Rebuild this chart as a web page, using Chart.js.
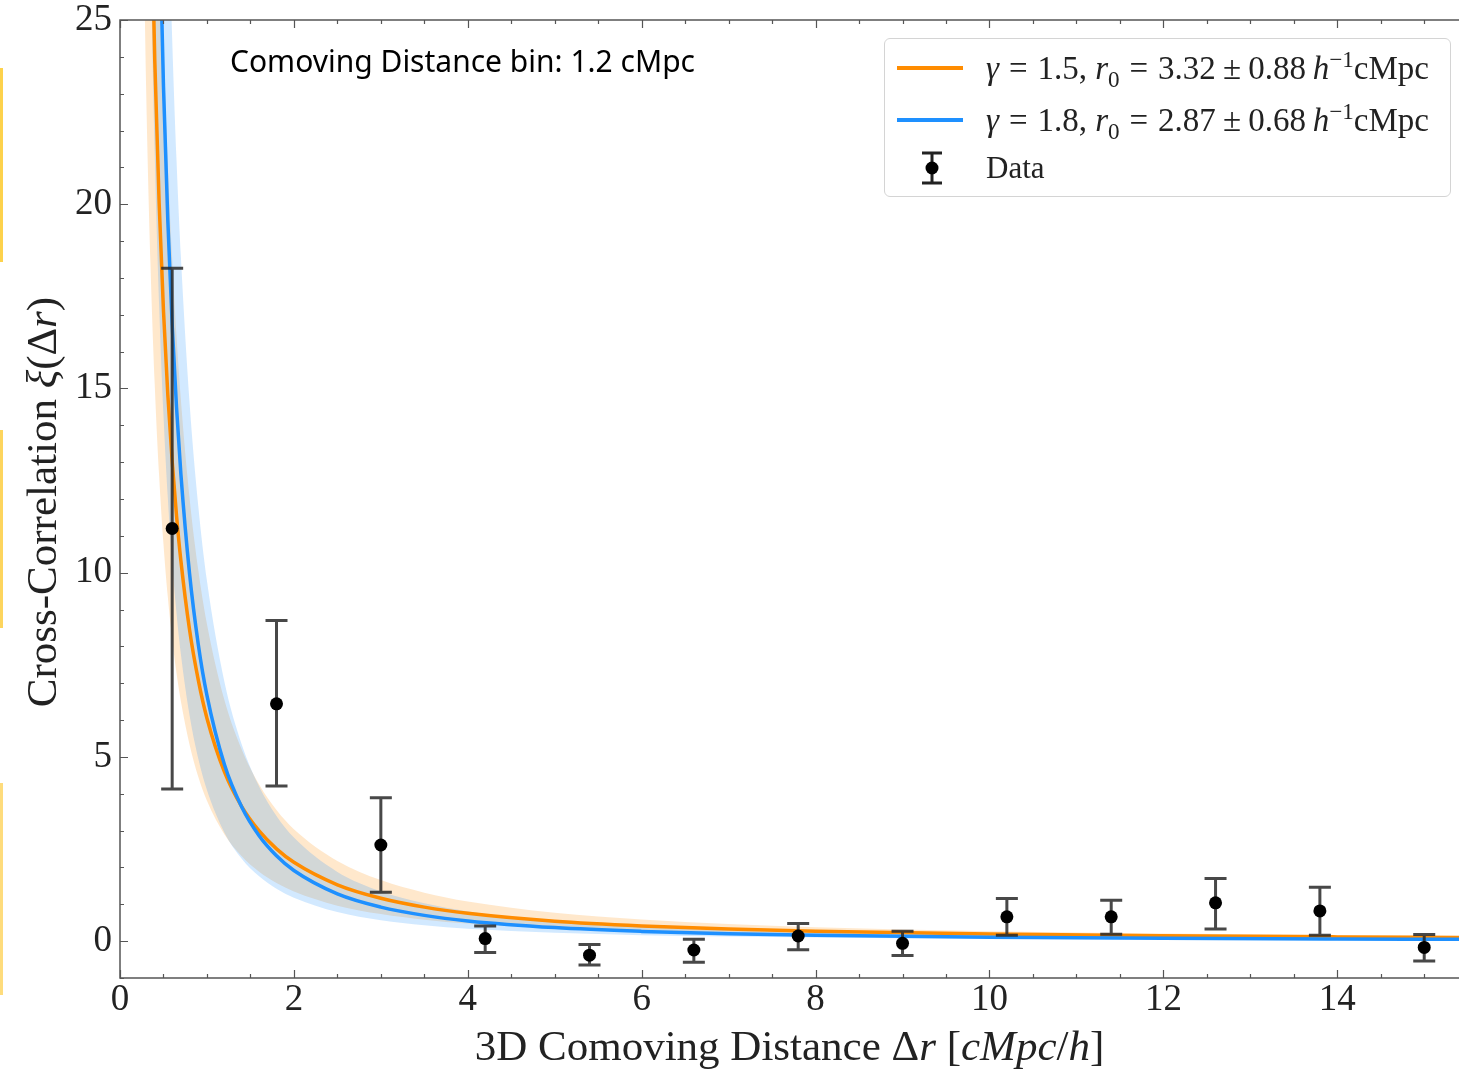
<!DOCTYPE html>
<html>
<head>
<meta charset="utf-8">
<title>Cross-correlation vs 3D comoving distance</title>
<script src="https://cdn.jsdelivr.net/npm/chart.js@4.4.1/dist/chart.umd.min.js"></script>
<style>
    html, body { margin: 0; padding: 0; background: #fff; overflow: hidden; }
    #wrap { position: relative; width: 1459px; height: 1070px; }
    #chart { position: absolute; left: 0; top: 0; }
    .mark { position: absolute; left: 0; width: 3px; }
    .serif { font-family: "Liberation Serif", "DejaVu Serif", serif; color: #222; }
    #note { position: absolute; left: 230px; top: 40px; font-family: "Noto Sans", sans-serif; font-size: 30px; color: #000; white-space: nowrap; }
    #xtitle { position: absolute; left: 120px; width: 1339px; top: 1021px; text-align: center; font-size: 43px; white-space: nowrap; }
    #ytitle { position: absolute; left: -258px; top: 480px; width: 600px; height: 44px; line-height: 44px; text-align: center; font-size: 43px; white-space: nowrap; transform: rotate(-90deg); }
    #legend { position: absolute; left: 884px; top: 38px; width: 567px; height: 159px; box-sizing: border-box; border: 1.5px solid #d4d4d4; border-radius: 6px; background: rgba(255,255,255,0.9); }
    .row { position: absolute; left: 0; width: 100%; height: 40px; }
    .sw { position: absolute; left: 12px; top: 18px; width: 66px; height: 4px; }
    .lt { position: absolute; left: 101px; top: 0; line-height: 40px; font-size: 33px; white-space: nowrap; }
    .lt sub, .lt sup { font-size: 70%; line-height: 0; }
    .rel { margin: 0 0.3em; }
    .pm { margin: 0 0.22em; }
</style>
</head>
<body>
<div id="wrap">
    <canvas id="chart" width="1459" height="1070"></canvas>

    <div class="mark" style="top:68px;height:194px;background:#fdd24c;"></div>
    <div class="mark" style="top:430px;height:198px;background:#fdd55e;"></div>
    <div class="mark" style="top:783px;height:212px;background:#fedc7c;"></div>

    <div id="note">Comoving Distance bin: 1.2 cMpc</div>

    <div id="xtitle" class="serif">3D Comoving Distance &Delta;<i>r</i> [<i>cMpc</i>/<i>h</i>]</div>
    <div id="ytitle" class="serif">Cross-Correlation <i>&xi;</i>(&Delta;<i>r</i>)</div>

    <div id="legend" class="serif">
        <div class="row" style="top:9px;">
            <div class="sw" style="background:#ff8c00;"></div>
            <div class="lt"><i>&gamma;</i><span class="rel">=</span>1.5, <i>r</i><sub>0</sub><span class="rel">=</span>3.32<span class="pm">&plusmn;</span>0.88&thinsp;<i>h</i><sup>&minus;1</sup>cMpc</div>
        </div>
        <div class="row" style="top:61px;">
            <div class="sw" style="background:#1e90ff;"></div>
            <div class="lt"><i>&gamma;</i><span class="rel">=</span>1.8, <i>r</i><sub>0</sub><span class="rel">=</span>2.87<span class="pm">&plusmn;</span>0.68&thinsp;<i>h</i><sup>&minus;1</sup>cMpc</div>
        </div>
        <div class="row" style="top:109px;">
            <svg style="position:absolute;left:30px;top:0;" width="34" height="40">
                <path d="M17 5 V35 M7 5 H27 M7 35 H27" stroke="#222" stroke-width="3" fill="none"/>
                <circle cx="17" cy="20" r="6.5" fill="#000"/>
            </svg>
            <div class="lt" style="font-size:31px;">Data</div>
        </div>
    </div>
</div>

<script>
// measured points (x = bin centre, y = xi) and their error bar ends
const dataX = [0.6, 1.8, 3.0, 4.2, 5.4, 6.6, 7.8, 9.0, 10.2, 11.4, 12.6, 13.8, 15.0];
const dataY = [11.2, 6.44, 2.61, 0.07, -0.38, -0.24, 0.14, -0.06, 0.66, 0.66, 1.04, 0.82, -0.17];
const errLow = [4.13, 4.21, 1.33, -0.31, -0.65, -0.57, -0.23, -0.39, 0.16, 0.19, 0.33, 0.16, -0.54];
const errHigh = [18.26, 8.70, 3.89, 0.41, -0.09, 0.05, 0.48, 0.27, 1.16, 1.11, 1.70, 1.46, 0.18];

// fit curves and their bands
const curveX = [0.25, 0.3, 0.35, 0.4, 0.45, 0.5, 0.55, 0.6, 0.65, 0.7, 0.8, 0.9, 1.0, 1.2, 1.4, 1.6, 1.8, 2.0, 2.5, 3.0, 3.5, 4.0, 5.0, 6.0, 7.0, 8.0, 10, 12, 14, 15.4];
const orangeFit = [48.4, 36.8, 29.2, 23.9, 20.04, 17.11, 14.83, 13.02, 11.55, 10.33, 8.45, 7.09, 6.05, 4.60, 3.65, 2.99, 2.505, 2.139, 1.530, 1.164, 0.924, 0.756, 0.541, 0.412, 0.327, 0.267, 0.191, 0.146, 0.116, 0.100];
const orangeLo = [30.5, 23.2, 18.41, 15.07, 12.63, 10.78, 9.34, 8.20, 7.27, 6.51, 5.33, 4.46, 3.81, 2.90, 2.301, 1.883, 1.578, 1.348, 0.964, 0.734, 0.582, 0.476, 0.341, 0.259, 0.206, 0.168, 0.121, 0.092, 0.073, 0.063];
const orangeHi = [68.9, 52.4, 41.6, 34.0, 28.5, 24.3, 21.1, 18.52, 16.43, 14.70, 12.03, 10.08, 8.61, 6.55, 5.20, 4.25, 3.56, 3.04, 2.178, 1.657, 1.315, 1.076, 0.770, 0.586, 0.465, 0.380, 0.272, 0.207, 0.164, 0.142];
const blueFit = [80.9, 58.3, 44.1, 34.7, 28.1, 23.2, 19.56, 16.73, 14.49, 12.68, 9.97, 8.06, 6.67, 4.80, 3.64, 2.86, 2.316, 1.916, 1.282, 0.923, 0.700, 0.550, 0.368, 0.265, 0.201, 0.158, 0.106, 0.076, 0.058, 0.049];
const blueLo = [49.7, 35.8, 27.1, 21.3, 17.26, 14.28, 12.03, 10.28, 8.90, 7.79, 6.13, 4.96, 4.10, 2.95, 2.237, 1.759, 1.423, 1.178, 0.788, 0.568, 0.430, 0.338, 0.226, 0.163, 0.124, 0.097, 0.065, 0.047, 0.035, 0.030];
const blueHi = [118.6, 85.4, 64.7, 50.9, 41.2, 34.1, 28.7, 24.5, 21.2, 18.59, 14.62, 11.82, 9.78, 7.05, 5.34, 4.20, 3.40, 2.81, 1.880, 1.354, 1.026, 0.807, 0.540, 0.389, 0.295, 0.232, 0.155, 0.112, 0.085, 0.071];

const xTicks = [0, 2, 4, 6, 8, 10, 12, 14];
const yTicks = [0, 5, 10, 15, 20, 25];

const ORANGE = '#ff8c00';
const BLUE = '#1e90ff';
const serif = '"Liberation Serif", "DejaVu Serif", serif';

const pts = (ys) => curveX.map((v, i) => ({ x: v, y: ys[i] }));

// error bars go under the markers, on top of the curves
const errorBars = {
    id: 'errorBars',
    beforeDatasetDraw(chart, args) {
        if (args.index !== 0) return;
        const { ctx, scales: { x, y } } = chart;
        ctx.save();
        ctx.strokeStyle = 'rgba(40, 40, 40, 0.85)';
        ctx.lineWidth = 3;
        dataX.forEach((v, i) => {
            const px = x.getPixelForValue(v);
            const top = y.getPixelForValue(errHigh[i]);
            const bot = y.getPixelForValue(errLow[i]);
            ctx.beginPath();
            ctx.moveTo(px, top); ctx.lineTo(px, bot);
            ctx.moveTo(px - 11, top); ctx.lineTo(px + 11, top);
            ctx.moveTo(px - 11, bot); ctx.lineTo(px + 11, bot);
            ctx.stroke();
        });
        ctx.restore();
    }
};

// spines with inward major/minor ticks (matplotlib look)
const frame = {
    id: 'frame',
    afterDraw(chart) {
        const { ctx, chartArea: a, scales: { x, y } } = chart;
        ctx.save();
        ctx.strokeStyle = '#555';
        ctx.lineWidth = 1.5;
        ctx.beginPath();
        ctx.moveTo(a.right + 2, a.top); ctx.lineTo(a.left, a.top);
        ctx.lineTo(a.left, a.bottom); ctx.lineTo(a.right + 2, a.bottom);
        ctx.stroke();

        ctx.lineWidth = 1.2;
        ctx.beginPath();
        for (let v = 0; v <= x.max; v += 0.5) {
            const len = xTicks.includes(v) ? 8 : 4;
            const px = Math.round(x.getPixelForValue(v)) + 0.5;
            ctx.moveTo(px, a.bottom); ctx.lineTo(px, a.bottom - len);
            ctx.moveTo(px, a.top); ctx.lineTo(px, a.top + len);
        }
        for (let v = -1; v <= 25; v += 1) {
            const len = yTicks.includes(v) ? 8 : 4;
            const py = Math.round(y.getPixelForValue(v)) + 0.5;
            ctx.moveTo(a.left, py); ctx.lineTo(a.left + len, py);
        }
        ctx.stroke();
        ctx.restore();
    }
};

const band = (ys, color, order, fill) => ({
    data: pts(ys),
    borderWidth: 0,
    pointRadius: 0,
    backgroundColor: color,
    fill: fill,
    order: order,
    clip: 0,
    cubicInterpolationMode: 'monotone'
});

const fitLine = (ys, color, order) => ({
    data: pts(ys),
    borderColor: color,
    borderWidth: 3.5,
    pointRadius: 0,
    fill: false,
    order: order,
    clip: 0,
    cubicInterpolationMode: 'monotone'
});

new Chart(document.getElementById('chart'), {
    type: 'line',
    data: {
        datasets: [
            {
                label: 'Data',
                data: dataX.map((v, i) => ({ x: v, y: dataY[i] })),
                showLine: false,
                pointRadius: 6.5,
                pointBackgroundColor: '#000',
                pointBorderWidth: 0,
                order: 0
            },
            fitLine(blueFit, BLUE, 1),
            fitLine(orangeFit, ORANGE, 2),
            band(orangeLo, 'rgba(255, 140, 0, 0.2)', 6, false),
            band(orangeHi, 'rgba(255, 140, 0, 0.2)', 5, '-1'),
            band(blueLo, 'rgba(30, 144, 255, 0.2)', 4, false),
            band(blueHi, 'rgba(30, 144, 255, 0.2)', 3, '-1')
        ]
    },
    options: {
        responsive: false,
        animation: false,
        devicePixelRatio: 1,
        layout: { autoPadding: false, padding: { top: 20, right: 0, left: 0, bottom: 0 } },
        plugins: {
            legend: { display: false },
            tooltip: { enabled: false }
        },
        scales: {
            x: {
                type: 'linear',
                min: 0,
                max: 15.4,
                ticks: {
                    stepSize: 2,
                    includeBounds: false,
                    padding: 4,
                    maxRotation: 0,
                    color: '#222',
                    font: { family: serif, size: 37, lineHeight: 1 }
                },
                grid: { display: false, drawTicks: false },
                border: { display: false },
                afterFit: (s) => { s.height = 92; s.paddingLeft = 0; s.paddingRight = 0; }
            },
            y: {
                min: -1,
                max: 25,
                ticks: {
                    stepSize: 5,
                    includeBounds: false,
                    padding: 8,
                    color: '#222',
                    font: { family: serif, size: 37, lineHeight: 1 }
                },
                grid: { display: false, drawTicks: false },
                border: { display: false },
                afterFit: (s) => { s.width = 120; s.paddingTop = 0; s.paddingBottom = 0; }
            }
        }
    },
    plugins: [errorBars, frame]
});
</script>
</body>
</html>
